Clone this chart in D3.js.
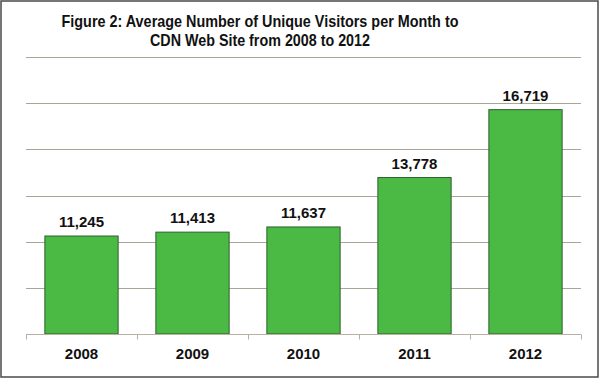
<!DOCTYPE html>
<html>
<head>
<meta charset="utf-8">
<script src="https://cdn.jsdelivr.net/npm/d3@7"></script>
<style>
  html, body { margin: 0; padding: 0; background: #fff; }
  svg { display: block; }
</style>
</head>
<body>
<svg id="chart" width="600" height="379"></svg>
<script>
const years = ["2008", "2009", "2010", "2011", "2012"];
const visitors = [11245, 11413, 11637, 13778, 16719];
const titleLines = [
  "Figure 2: Average Number of Unique Visitors per Month to",
  "CDN Web Site from 2008 to 2012"
];
const yTicks = [7000, 9000, 11000, 13000, 15000, 17000, 19000];

(function () {
const svg = d3.select("#chart");
const W = 600, H = 379;

// outer border
svg.append("rect")
  .attr("x", 1).attr("y", 1).attr("width", W - 3).attr("height", H - 3)
  .attr("fill", "#fff").attr("stroke", "#4a4a4a").attr("stroke-width", 1.5);

const pLeft = 26, pRight = 581, pTop = 57, pBottom = 334;

const x = d3.scaleBand().domain(years).range([pLeft, pRight])
  .paddingInner(0.34).paddingOuter(0.17);
const y = d3.scaleLinear().domain([7000, 19000]).range([pBottom, pTop]);

// gridlines
svg.append("g").selectAll("line").data(yTicks.slice(1)).join("line")
  .attr("x1", pLeft).attr("x2", pRight)
  .attr("y1", d => Math.round(y(d)) + 0.5).attr("y2", d => Math.round(y(d)) + 0.5)
  .attr("stroke", "#aaa596").attr("stroke-width", 1);

// title
const titleWidths = [397, 220];
svg.append("g").selectAll("text").data(titleLines).join("text")
  .attr("x", 260).attr("y", (d, i) => 26.5 + i * 19)
  .attr("text-anchor", "middle")
  .attr("font-family", "'Liberation Sans Narrow', 'Arial Narrow', 'Liberation Sans', Arial, sans-serif")
  .attr("font-weight", "bold").attr("font-size", "16.5px")
  .attr("fill", "#111")
  .attr("textLength", (d, i) => titleWidths[i])
  .attr("lengthAdjust", "spacingAndGlyphs")
  .text(d => d);

// bars
svg.append("g").selectAll("rect").data(years).join("rect")
  .attr("x", d => x(d)).attr("width", x.bandwidth())
  .attr("y", (d, i) => y(visitors[i]))
  .attr("height", (d, i) => pBottom - y(visitors[i]))
  .attr("fill", "#4aba44").attr("stroke", "#2f5f2c").attr("stroke-width", 1);

// value labels
svg.append("g").selectAll("text").data(years).join("text")
  .attr("x", d => x(d) + x.bandwidth() / 2)
  .attr("y", (d, i) => y(visitors[i]) - 9)
  .attr("text-anchor", "middle")
  .attr("font-family", "'Liberation Sans', Arial, sans-serif")
  .attr("font-weight", "bold").attr("font-size", "15px")
  .attr("fill", "#111")
  .text((d, i) => d3.format(",")(visitors[i]));

// x axis
const xAxis = svg.append("g").attr("transform", `translate(0,${pBottom + 0.5})`)
  .call(d3.axisBottom(x).tickSize(0).tickPadding(0).tickFormat(""));
xAxis.select(".domain").attr("stroke", "#b8b0a0").attr("d", `M${pLeft},0H${pRight}`);
xAxis.selectAll(".tick").remove();
const boundaries = years.map(d => x(d) - x.step() * x.paddingInner() / 2).concat([pRight]);
boundaries[0] = pLeft;
xAxis.selectAll("line.tk").data(boundaries).join("line")
  .attr("class", "tk")
  .attr("x1", d => Math.round(d) + 0.5).attr("x2", d => Math.round(d) + 0.5)
  .attr("y1", 0).attr("y2", 5)
  .attr("stroke", "#b8b0a0");

svg.append("g").selectAll("text").data(years).join("text")
  .attr("x", d => x(d) + x.bandwidth() / 2)
  .attr("y", 358.5)
  .attr("text-anchor", "middle")
  .attr("font-family", "'Liberation Sans', Arial, sans-serif")
  .attr("font-weight", "bold").attr("font-size", "15px")
  .attr("fill", "#111")
  .text(d => d);
})();
</script>
</body>
</html>
